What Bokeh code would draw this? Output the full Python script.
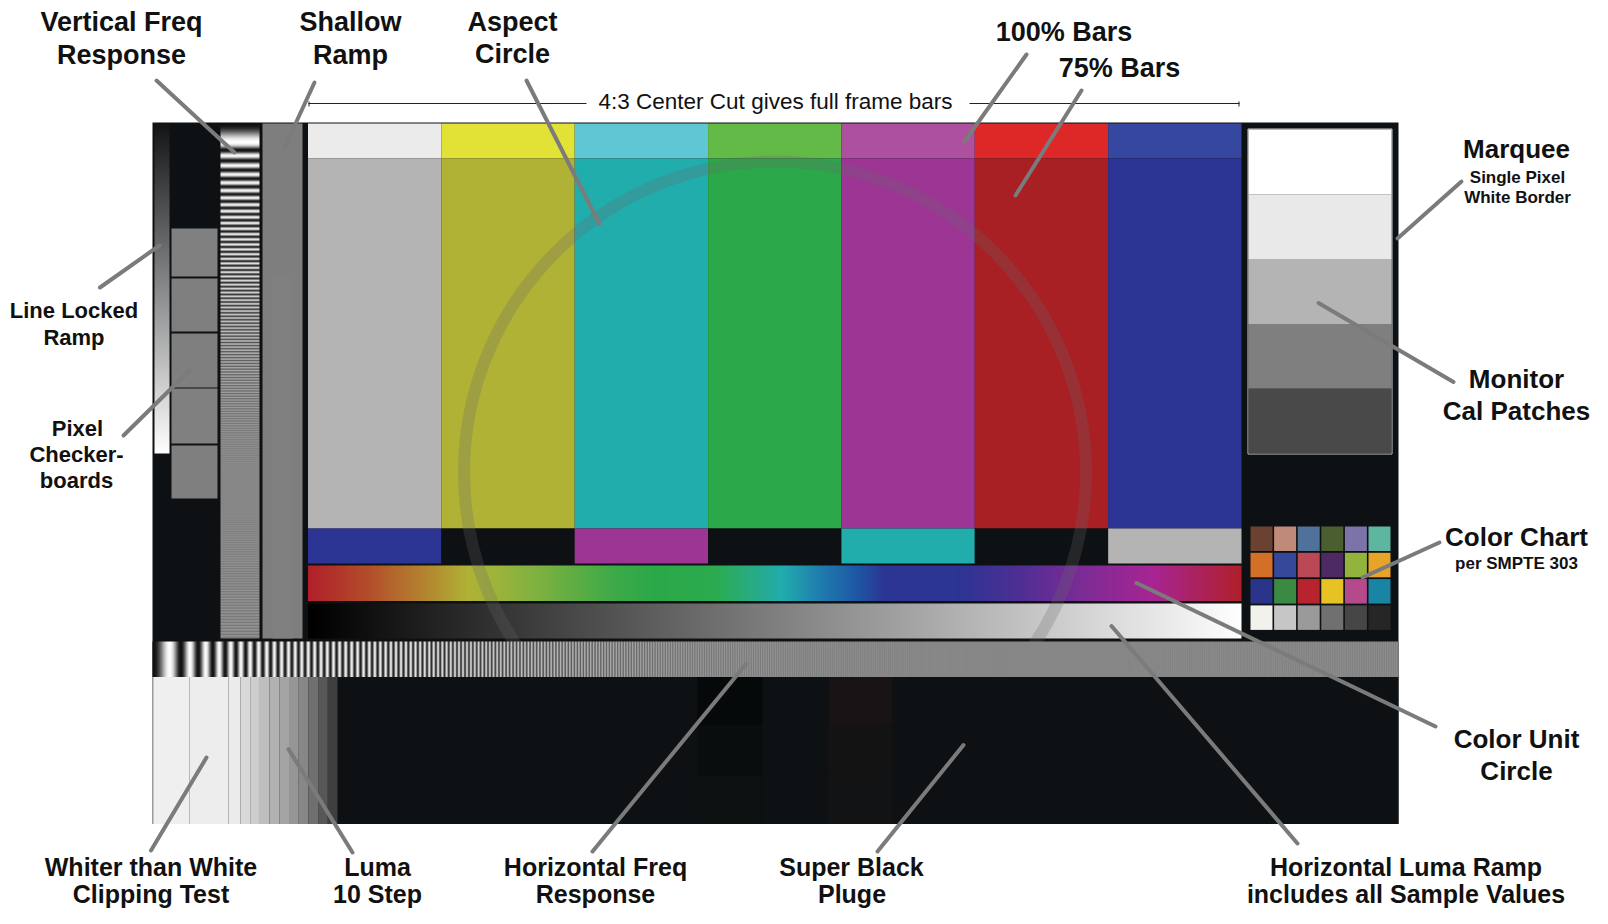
import numpy as np
from bokeh.plotting import figure
from bokeh.models import Range1d
from bokeh.embed import file_html
from bokeh.resources import INLINE
from bokeh.core.properties import value

# ---------------- data ----------------
bars_75 = ["#b4b4b4", "#b0b236", "#22adad", "#2ba94a", "#9c3594", "#a81f24", "#2c3593"]
bars_100 = ["#ebebeb", "#e2e236", "#5fc6d3", "#63ba47", "#ad50a0", "#de2727", "#35479e"]
reverse_bars = ["#2c3593", "#0e1113", "#9c3594", "#0e1113", "#22adad", "#0e1113", "#b4b4b4"]
cal_patches = ["#ffffff", "#e9e9e9", "#b4b4b4", "#7f7f7f", "#494949"]
chart_row1 = ["#6b4232", "#c08a78", "#50719a", "#4a5e30", "#7c74a8", "#5fb6a0"]
chart_row2 = ["#d46f2a", "#36489a", "#ba4856", "#4e2a62", "#92b43c", "#e8a428"]
chart_row3 = ["#2a348a", "#3a8a44", "#b8242e", "#e6c224", "#b44a8c", "#1a84a4"]
chart_row4 = ["#f2f1ec", "#c6c6c6", "#9a9a9a", "#707070", "#464646", "#262626"]
luma_10_step = ["#d9d9d9", "#cdcdcd", "#bfbfbf", "#b1b1b1", "#a4a4a4",
                "#969696", "#878787", "#6f6f6f", "#575757", "#3f3f3f"]
whiter_steps = ["#efefef", "#ededed", "#ebebeb"]
checker_boxes = ["#808080", "checker", "#7f7f7f", "#808080", "#7f7f7f"]
pluge_left = ["#05090a", "#0a0d0e", "#0c1011"]
pluge_right = ["#181415", "#141314", "#111314"]
hue_stop_pos = [0.0, 0.065, 0.13, 0.17, 0.195, 0.25, 0.325, 0.37, 0.435, 0.48,
                0.507, 0.546, 0.585, 0.617, 0.695, 0.76, 0.825, 0.904, 1.0]
hue_stop_col = ["#b0202a", "#b34f2b", "#b38a30", "#b0b236", "#a2b43a", "#7bb141",
                "#3faa48", "#2ba94a", "#2bab4f", "#27ab8a", "#22adad", "#1f7fae",
                "#1e5aa6", "#2c3593", "#2c3593", "#4e2f94", "#7a2c94", "#a82594", "#b0202a"]
luma_ramp_stops = ["#000000", "#ffffff"]
line_ramp_stops = ["#121416", "#ffffff"]
hfreq_knot_x = [152, 168, 178, 213, 246, 290, 360, 500, 700, 1000, 1398]
hfreq_knot_f = [0.025, 0.035, 0.05, 0.075, 0.11, 0.15, 0.17, 0.28, 0.42, 0.5, 0.56]
vfreq_knot_y = [123, 141, 148, 158, 177, 194, 210, 277, 340, 638]
vfreq_knot_f = [0.025, 0.03, 0.085, 0.1, 0.12, 0.137, 0.16, 0.24, 0.32, 0.68]

# label text with its visual centre (x, y)
top_labels = [
    ("Vertical Freq", 121, 21.7), ("Response", 121, 54.5),
    ("Shallow", 350, 21.7), ("Ramp", 350, 54.5),
    ("Aspect", 512, 21.7), ("Circle", 512, 53.5),
    ("100% Bars", 1063.5, 31), ("75% Bars", 1119, 67.8),
]
right_labels = [
    ("Marquee", 1516, 148.8),
    ("Monitor", 1516, 378.5), ("Cal Patches", 1516, 410.3),
    ("Color Chart", 1516, 536.5),
    ("Color Unit", 1516, 738.5), ("Circle", 1516, 770.3),
]
bottom_labels = [
    ("Whiter than White", 150.5, 866), ("Clipping Test", 150.5, 893),
    ("Luma", 377, 866), ("10 Step", 377, 893),
    ("Horizontal Freq", 595, 866), ("Response", 595, 893),
    ("Super Black", 851, 866), ("Pluge", 851.5, 893),
    ("Horizontal Luma Ramp", 1405.5, 866), ("includes all Sample Values", 1405.5, 893),
]
mid_labels = [("Line Locked", 73.5, 309.8), ("Ramp", 73.5, 336.5),
              ("Pixel", 77, 427.8), ("Checker-", 76, 454.4), ("boards", 76, 480)]
small_labels = [("Single Pixel", 1517, 176.5), ("White Border", 1517, 197),
                ("per SMPTE 303", 1516, 563)]
center_cut_text = "4:3 Center Cut gives full frame bars"

callouts = [
    (156, 80, 234, 152), (314, 82, 284, 147), (526, 80, 599, 223.5),
    (1026, 54, 964, 141), (1081, 90, 1015, 195),
    (1461, 181, 1397, 238), (1453, 381.5, 1318, 302.5),
    (1439, 542, 1362, 577), (1435, 726, 1136, 582.5),
    (1297, 843, 1111, 625.5), (877, 851, 963, 744.5),
    (592, 851, 745.5, 663.5), (352, 852, 288, 748.6), (150.5, 850, 206, 757),
    (99.5, 287, 159, 245), (123, 435, 189, 370),
]

# ---------------- layout (screen pixels) ----------------
FR_L, FR_T, FR_R, FR_B = 152, 122, 1398, 823.5
BAR_L, BAR_R = 307.5, 1241
Y100_T, Y100_B, Y75_B, YREV_B = 123, 158, 528, 563
HUE_T, HUE_B, LUMA_T, LUMA_B = 565, 600.5, 603, 638
HF_T, HF_B = 641, 676.5
BG = "#0e1113"
FONT = value("Liberation Sans")


def Y(s):
    return 924 - s


def hex2rgb(h):
    return [int(h[i:i + 2], 16) for i in (1, 3, 5)]


def to_image(rgb):
    h, w, _ = rgb.shape
    img = np.empty((h, w), dtype=np.uint32)
    v = img.view(dtype=np.uint8).reshape((h, w, 4))
    v[..., :3] = np.clip(rgb, 0, 255).astype(np.uint8)
    v[..., 3] = 255
    return np.ascontiguousarray(img[::-1])


def hgrad(w, h, pos, cols):
    t = (np.arange(w) + 0.5) / w
    c = np.array([hex2rgb(x) for x in cols], dtype=float)
    row = np.stack([np.interp(t, pos, c[:, k]) for k in range(3)], axis=-1)
    return np.repeat(row[None, :, :], h, axis=0)


def chirp(n, start, kx, kf):
    s = start + 0.5 + np.arange(n)
    f = np.interp(s, kx, kf)
    phi = np.concatenate([[0.0], np.cumsum(f)[:-1]])
    amp = np.interp(f, [0, 0.22, 0.5, 0.8], [0.47, 0.45, 0.14, 0.08])
    return 255 * (0.53 - amp * np.cos(2 * np.pi * phi))


p = figure(width=1592, height=908, x_range=Range1d(0, 1592), y_range=Range1d(16, 924),
           output_backend="svg", toolbar_location=None, min_border=0,
           x_axis_type=None, y_axis_type=None)
p.grid.visible = False
p.outline_line_color = None
p.background_fill_color = "white"
p.border_fill_color = "white"


def box(l, t, r, b, color, **kw):
    p.quad(left=l, right=r, top=Y(t), bottom=Y(b), fill_color=color, line_color=None, **kw)


def img(arr, l, t, r, b):
    p.image_rgba(image=[arr], x=l, y=Y(b), dw=r - l, dh=b - t)


# frame
box(FR_L, FR_T, FR_R, FR_B, BG)

# colour bars
n = len(bars_75)
bw = (BAR_R - BAR_L) / n
lefts = [BAR_L + i * bw for i in range(n)]
rights = [BAR_L + (i + 1) * bw for i in range(n)]
p.quad(left=lefts, right=rights, top=Y(Y100_T), bottom=Y(Y100_B), fill_color=bars_100, line_color=None)
p.quad(left=lefts, right=rights, top=Y(Y100_B), bottom=Y(Y75_B), fill_color=bars_75, line_color=None)
p.quad(left=lefts, right=rights, top=Y(Y75_B), bottom=Y(YREV_B), fill_color=reverse_bars, line_color=None)

# hue ramp (colour unit circle) and luma ramp
wr = int(round(BAR_R - BAR_L))
img(to_image(hgrad(wr, int(HUE_B - HUE_T), hue_stop_pos, hue_stop_col)), BAR_L, HUE_T, BAR_R, HUE_B)
img(to_image(hgrad(wr, int(LUMA_B - LUMA_T), [0, 1], luma_ramp_stops)), BAR_L, LUMA_T, BAR_R, LUMA_B)

# aspect circle
p.circle(x=[774.5], y=[Y(472)], radius=311, fill_color=None, line_color="#666666",
         line_alpha=0.25, line_width=12)

# left panel: line locked ramp (vertical)
lr_h = int(453 - 123)
t = (np.arange(lr_h) + 0.5) / lr_h
c0, c1 = np.array(hex2rgb(line_ramp_stops[0]), float), np.array(hex2rgb(line_ramp_stops[1]), float)
col = c0[None, :] + (c1 - c0)[None, :] * t[:, None]
img(to_image(np.repeat(col[:, None, :], 15, axis=1)), 154, 123, 169, 453)

# pixel checkerboards
box_rows = [(228, 276), (278, 331), (333, 387), (388, 443), (445, 498)]
for (t0, b0), c in zip(box_rows, checker_boxes):
    if c == "checker":
        hh, ww = int(b0 - t0), 46
        yy, xx = np.mgrid[0:hh, 0:ww]
        chk = np.where(((xx + yy) % 2)[..., None] == 0, 118.0, 136.0) * np.ones((1, 1, 3))
        img(to_image(chk), 171, t0, 217, b0)
    else:
        box(171, t0, 217, b0, c)

# vertical frequency response
vh = int(LUMA_B - 123)
vals = chirp(vh, 123, vfreq_knot_y, vfreq_knot_f)
img(to_image(np.repeat(np.repeat(vals[:, None, None], 39, axis=1), 3, axis=2)), 220, 123, 259, LUMA_B)

# shallow ramp
box(262, 123, 302, LUMA_B, "#7e7e7e")
box(272, 277, 292, LUMA_B, "#808080")

# marquee / monitor cal patches
p.quad(left=1247.5, right=1391.5, top=Y(128.5), bottom=Y(453.5), fill_color=None,
       line_color="#cfcfcf", line_width=1)
ph = (453 - 129) / len(cal_patches)
p.quad(left=1248, right=1391, top=[Y(129 + i * ph) for i in range(len(cal_patches))],
       bottom=[Y(129 + (i + 1) * ph) for i in range(len(cal_patches))],
       fill_color=cal_patches, line_color=None)

# colour chart
for r, row in enumerate([chart_row1, chart_row2, chart_row3, chart_row4]):
    x0s = [1250 + i * 23.6 for i in range(len(row))]
    p.quad(left=x0s, right=[x + 22 for x in x0s], top=Y(526 + r * 26.3),
           bottom=Y(526 + r * 26.3 + 24.5), fill_color=row, line_color=None)

# horizontal frequency response
hw = int(round(FR_R - FR_L))
hv = chirp(hw, FR_L, hfreq_knot_x, hfreq_knot_f)
hh = int(HF_B - HF_T)
img(to_image(np.repeat(np.repeat(hv[None, :, None], hh, axis=0), 3, axis=2)), FR_L, HF_T, FR_R, HF_B)

# bottom band
box(FR_L, HF_B, FR_R, FR_B, BG)
wx = [152, 189, 228, 240]
for i, c in enumerate(whiter_steps):
    box(wx[i], HF_B, wx[i + 1], FR_B, c)
sw = (337 - 240) / len(luma_10_step)
p.quad(left=[240 + i * sw for i in range(len(luma_10_step))],
       right=[240 + (i + 1) * sw for i in range(len(luma_10_step))],
       top=Y(HF_B), bottom=Y(FR_B), fill_color=luma_10_step, line_color=None)
pl_rows = [(HF_B, 725), (725, 775), (775, FR_B)]
for (t0, b0), c in zip(pl_rows, pluge_left):
    box(697, t0, 762, b0, c)
for (t0, b0), c in zip(pl_rows, pluge_right):
    box(828, t0, 892, b0, c)
p.segment(x0=[FR_L + 0.5], y0=[Y(HF_B)], x1=[FR_L + 0.5], y1=[Y(FR_B)], line_color="#9a9a9a", line_width=1)

# 4:3 center cut marker
p.segment(x0=[308, 969], y0=[Y(103), Y(103)], x1=[586, 1239], y1=[Y(103), Y(103)],
          line_color="#222222", line_width=1.2)
p.segment(x0=[308.5, 1238.5], y0=[Y(101), Y(101)], x1=[308.5, 1238.5], y1=[Y(106), Y(106)],
          line_color="#222222", line_width=1)
p.text(x=[775], y=[Y(100.6)], text=[center_cut_text], text_font=FONT,
       text_font_size="22.5px", text_align="center", text_baseline="alphabetic", text_color="#111111")

# callout lines
p.segment(x0=[c[0] for c in callouts], y0=[Y(c[1]) for c in callouts],
          x1=[c[2] for c in callouts], y1=[Y(c[3]) for c in callouts],
          line_color="#7b7b7b", line_width=4, line_cap="round")

# labels
for labels, size in [(top_labels, "27px"), (right_labels, "26px"), (bottom_labels, "25px"),
                     (mid_labels, "22px"), (small_labels, "17px")]:
    p.text(x=[l[1] for l in labels], y=[Y(l[2]) for l in labels], text=[l[0] for l in labels],
           text_font=FONT, text_font_style="bold", text_font_size=size,
           text_align="center", text_baseline="alphabetic", text_color="#111111")

open("out.html", "w").write(file_html(p, INLINE))
